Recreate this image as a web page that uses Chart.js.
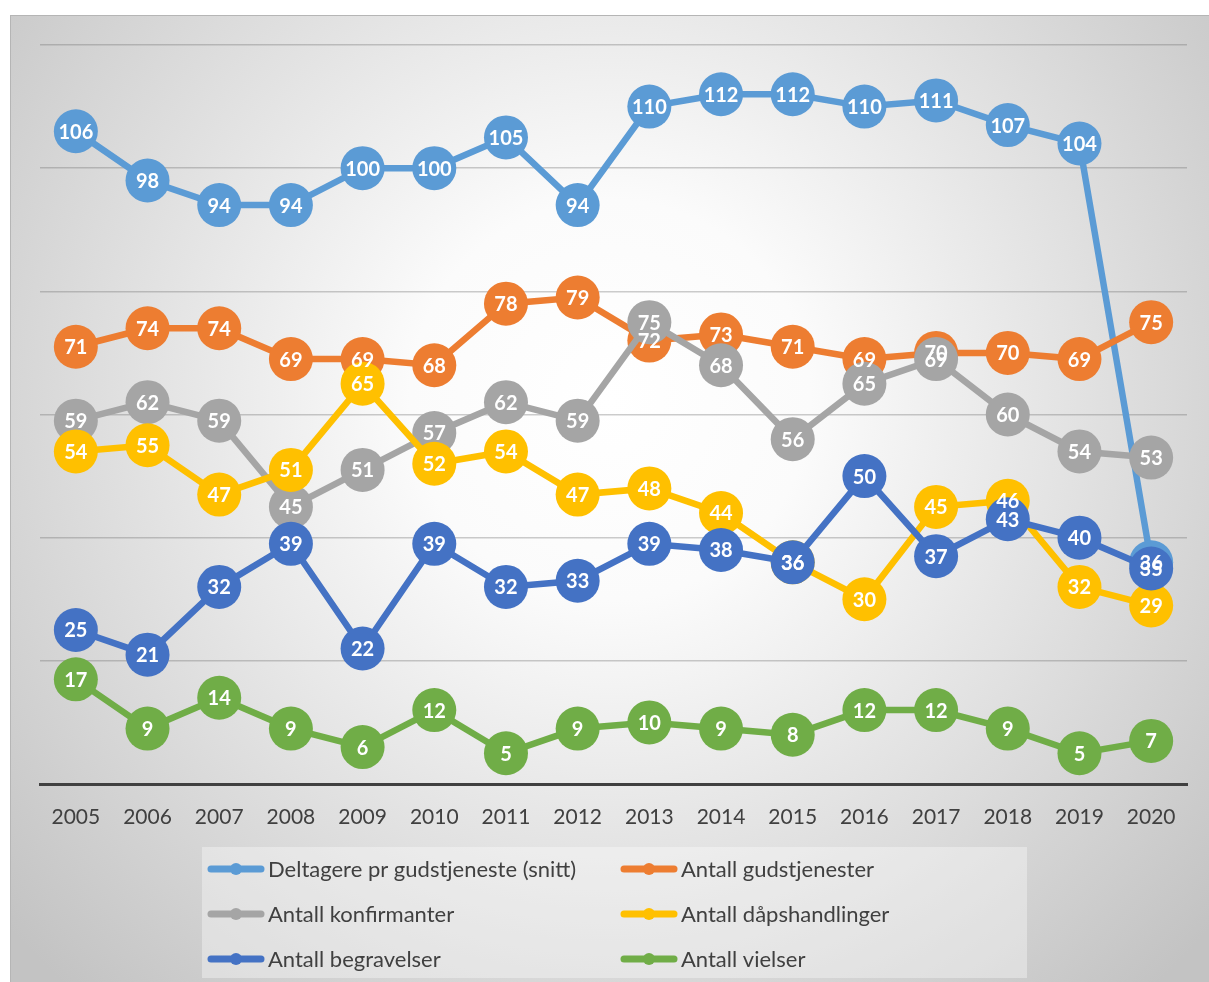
<!DOCTYPE html>
<html>
<head>
<meta charset="utf-8">
<script src="https://cdn.jsdelivr.net/npm/chart.js@4.4.1/dist/chart.umd.min.js"></script>
<style>
html, body { margin: 0; padding: 0; background: #fff; }
#wrap { position: relative; width: 1209px; height: 982px; }
</style>
</head>
<body>
<div id="wrap"><canvas id="chart" width="1209" height="982"></canvas></div>
<script>
var years = ['2005','2006','2007','2008','2009','2010','2011','2012','2013','2014','2015','2016','2017','2018','2019','2020'];
var deltagere    = [106, 98, 94, 94, 100, 100, 105, 94, 110, 112, 112, 110, 111, 107, 104, 36];
var gudstjenester = [71, 74, 74, 69, 69, 68, 78, 79, 72, 73, 71, 69, 70, 70, 69, 75];
var konfirmanter = [59, 62, 59, 45, 51, 57, 62, 59, 75, 68, 56, 65, 69, 60, 54, 53];
var daap         = [54, 55, 47, 51, 65, 52, 54, 47, 48, 44, 36, 30, 45, 46, 32, 29];
var begravelser  = [25, 21, 32, 39, 22, 39, 32, 33, 39, 38, 36, 50, 37, 43, 40, 35];
var vielser      = [17, 9, 14, 9, 6, 12, 5, 9, 10, 9, 8, 12, 12, 9, 5, 7];

var names = ['Deltagere pr gudstjeneste (snitt)', 'Antall gudstjenester', 'Antall konfirmanter',
             'Antall dåpshandlinger', 'Antall begravelser', 'Antall vielser'];
var colors = ['#5B9BD5', '#ED7D31', '#A5A5A5', '#FFC000', '#4472C4', '#70AD47'];
var series = [deltagere, gudstjenester, konfirmanter, daap, begravelser, vielser];

var FONT = 'Lato, "Open Sans", sans-serif';

// later series drawn on top (like excel)
var datasets = series.map(function(d, i){
	return {
		label: names[i],
		data: d,
		borderColor: colors[i],
		backgroundColor: colors[i],
		borderWidth: 6.5,
		pointRadius: 22,
		pointHoverRadius: 22,
		pointBorderWidth: 0,
		pointBackgroundColor: colors[i],
		tension: 0,
		order: 5 - i
	};
});

var bgPlugin = {
	id: 'bg',
	beforeDraw: function(chart){
		var ctx = chart.ctx;
		ctx.save();
		ctx.fillStyle = '#ffffff';
		ctx.fillRect(0, 0, chart.width, chart.height);
		var g = ctx.createRadialGradient(610, 400, 0, 610, 400, 800);
		g.addColorStop(0, '#ffffff');
		g.addColorStop(0.25, '#fbfbfb');
		g.addColorStop(1, '#c3c3c3');
		ctx.fillStyle = g;
		ctx.fillRect(10, 15, 1199, 967);
		ctx.strokeStyle = '#b5b5b5';
		ctx.lineWidth = 1;
		ctx.strokeRect(10.5, 15.5, 1199, 967);
		ctx.restore();
	}
};

var labelPlugin = {
	id: 'pointLabels',
	afterDatasetsDraw: function(chart){
		var ctx = chart.ctx;
		ctx.save();
		ctx.font = 'bold 20px ' + FONT;
		ctx.fillStyle = '#ffffff';
		ctx.textAlign = 'center';
		ctx.textBaseline = 'middle';
		chart.data.datasets.forEach(function(ds, i){
			var meta = chart.getDatasetMeta(i);
			meta.data.forEach(function(pt, j){
				ctx.fillText(String(ds.data[j]), pt.x, pt.y + 1);
			});
		});
		ctx.restore();
	}
};

var legendPlugin = {
	id: 'boxLegend',
	afterDraw: function(chart){
		var ctx = chart.ctx;
		ctx.save();
		ctx.fillStyle = 'rgba(255,255,255,0.35)';
		ctx.fillRect(202, 847, 825, 131);
		var cols = [208, 621];
		var rows = [869, 914, 959];
		ctx.font = '22px ' + FONT;
		ctx.textBaseline = 'middle';
		ctx.textAlign = 'left';
		names.forEach(function(n, i){
			var x = cols[i % 2], y = rows[Math.floor(i / 2)];
			ctx.strokeStyle = colors[i];
			ctx.lineWidth = 7;
			ctx.lineCap = 'round';
			ctx.beginPath();
			ctx.moveTo(x + 3, y);
			ctx.lineTo(x + 53, y);
			ctx.stroke();
			ctx.fillStyle = colors[i];
			ctx.beginPath();
			ctx.arc(x + 28, y, 6, 0, Math.PI * 2);
			ctx.fill();
			ctx.fillStyle = '#404040';
			ctx.fillText(n, x + 60, y + 1);
		});
		ctx.restore();
	}
};

new Chart(document.getElementById('chart'), {
	type: 'line',
	data: { labels: years, datasets: datasets },
	plugins: [bgPlugin, labelPlugin, legendPlugin],
	options: {
		responsive: false,
		animation: false,
		events: [],
		layout: { padding: { left: 40, right: 19, top: 45, bottom: 0 } },
		plugins: {
			legend: { display: false },
			tooltip: { enabled: false }
		},
		scales: {
			x: {
				offset: true,
				grid: { display: false },
				border: { display: true, color: '#404040', width: 3 },
				ticks: { color: '#404040', font: { family: FONT, size: 21 }, padding: 13, maxRotation: 0 },
				afterFit: function(s){ s.height = 198; s.paddingLeft = 0; s.paddingRight = 0; }
			},
			y: {
				min: 0,
				max: 120,
				ticks: { display: false, stepSize: 20 },
				border: { display: false },
				grid: {
					drawTicks: false,
					lineWidth: 1.5,
					color: function(c){ return c.tick && c.tick.value === 0 ? 'rgba(0,0,0,0)' : 'rgba(110,110,110,0.35)'; }
				},
				afterFit: function(s){ s.width = 0; }
			}
		}
	}
});
</script>
</body>
</html>
